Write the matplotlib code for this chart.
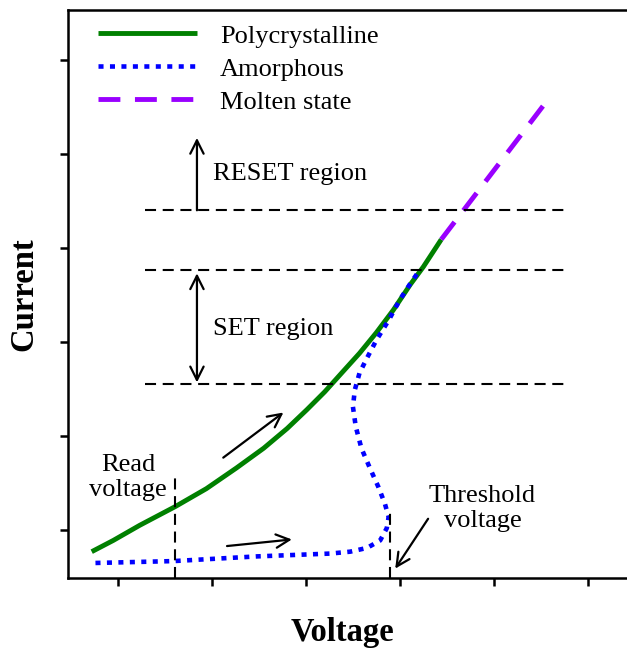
import matplotlib
matplotlib.use('Agg')
import matplotlib.pyplot as plt

# schematic I-V curves (arbitrary units, ticks at 1..6)
poly_v = [0.72, 0.95, 1.23, 1.61, 1.94, 2.26, 2.55, 2.80, 3.01, 3.20, 3.38,
          3.57, 3.75, 3.93, 4.11, 4.25, 4.44]
poly_i = [0.77, 0.89, 1.05, 1.25, 1.44, 1.66, 1.87, 2.08, 2.28, 2.47, 2.67,
          2.88, 3.10, 3.34, 3.61, 3.80, 4.09]

amor_v = [0.76, 1.59, 2.48, 3.26, 3.47, 3.65, 3.79, 3.86, 3.88, 3.84, 3.77, 3.68,
          3.59, 3.53, 3.50, 3.52, 3.57, 3.65, 3.75, 3.88, 4.00, 4.11, 4.20]
amor_i = [0.65, 0.67, 0.72, 0.75, 0.77, 0.81, 0.89, 1.02, 1.14, 1.28, 1.46, 1.66,
          1.87, 2.10, 2.31, 2.49, 2.67, 2.83, 3.02, 3.23, 3.45, 3.62, 3.75]

molten_v = [4.44, 5.60]
molten_i = [4.09, 5.61]

# current levels bounding the SET / RESET regions
levels = [2.55, 3.77, 4.40]
level_v = [1.29, 5.78]

read_v = 1.61
read_top = 1.61
thresh_v = 3.89
thresh_top = 1.21

ticks = [1, 2, 3, 4, 5, 6]

plt.rcParams['font.family'] = ['Liberation Serif', 'DejaVu Serif']

fig = plt.figure(figsize=(6.27, 6.48), dpi=100)
ax = fig.add_axes([0.1085, 0.108, 0.904, 0.8766])

ax.plot(poly_v, poly_i, color='#008000', lw=3.5, label='Polycrystalline',
        solid_capstyle='butt', solid_joinstyle='round')
ax.plot(amor_v, amor_i, color='#0000ff', lw=3.3, ls=(0, (1.1, 1.4)),
        label='Amorphous', dash_capstyle='butt')
ax.plot(molten_v, molten_i, color='#9900ff', lw=3.5, ls=(0, (4.5, 3.0)),
        label='Molten state', dash_capstyle='butt')

for lv in levels:
    ax.plot(level_v, [lv, lv], color='black', lw=1.5, ls=(0, (5.3, 3.2)))

ax.plot([read_v, read_v], [0.49, read_top], color='black', lw=1.5, ls=(0, (5.3, 3.2)))
ax.plot([thresh_v, thresh_v], [0.49, thresh_top], color='black', lw=1.5, ls=(0, (5.3, 3.2)))

arrow = dict(arrowstyle='->', lw=1.6, color='black', mutation_scale=24,
             shrinkA=0, shrinkB=0)
ax.annotate('', xy=(1.84, 5.17), xytext=(1.84, 4.40), arrowprops=arrow)
ax.annotate('', xy=(1.84, 3.73), xytext=(1.84, 2.57),
            arrowprops=dict(arrow, arrowstyle='<->'))
ax.annotate('', xy=(2.76, 2.25), xytext=(2.12, 1.77), arrowprops=arrow)
ax.annotate('', xy=(2.85, 0.90), xytext=(2.16, 0.83), arrowprops=arrow)
ax.annotate('', xy=(3.95, 0.59), xytext=(4.30, 1.12), arrowprops=arrow)

fs = 19
ax.text(2.01, 4.79, 'RESET region', fontsize=fs, va='center', ha='left')
ax.text(2.01, 3.14, 'SET region', fontsize=fs, va='center', ha='left')
ax.text(1.11, 1.56, 'Read\nvoltage', fontsize=fs, va='center', ha='center',
        linespacing=1.2)
ax.text(4.88, 1.23, 'Threshold\nvoltage', fontsize=fs, va='center', ha='center',
        linespacing=1.2)

ax.set_xlim(0.468, 6.50)
ax.set_ylim(0.49, 6.53)
ax.set_xticks(ticks)
ax.set_yticks(ticks)
ax.set_xticklabels([])
ax.set_yticklabels([])
ax.tick_params(direction='out', length=6, width=1.8)
for side in ['left', 'bottom', 'top', 'right']:
    ax.spines[side].set_linewidth(1.8)

ax.set_xlabel('Voltage', fontsize=23.5, fontweight='bold')
ax.set_ylabel('Current', fontsize=23.5, fontweight='bold')
ax.xaxis.set_label_coords(0.485, -0.068)
ax.yaxis.set_label_coords(-0.05, 0.5)

ax.legend(loc='upper left', bbox_to_anchor=(0.053, 0.975), frameon=False,
          fontsize=fs, handlelength=3.75, handletextpad=0.87, labelspacing=0.36,
          borderpad=0, borderaxespad=0)

fig.savefig('out.png', dpi=100)
